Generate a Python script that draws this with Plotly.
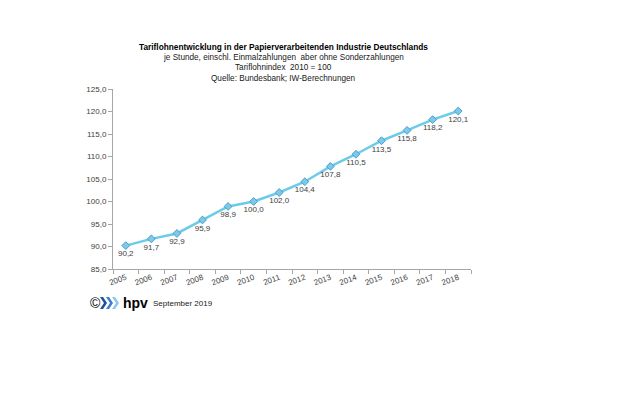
import plotly.graph_objects as go

years = ["2005", "2006", "2007", "2008", "2009", "2010", "2011", "2012", "2013", "2014", "2015", "2016", "2017", "2018"]
index_values = [90.2, 91.7, 92.9, 95.9, 98.9, 100.0, 102.0, 104.4, 107.8, 110.5, 113.5, 115.8, 118.2, 120.1]
y_ticks = [85, 90, 95, 100, 105, 110, 115, 120, 125]

title_lines = [
    "<b>Tariflohnentwicklung in der Papierverarbeitenden Industrie Deutschlands</b>",
    "je Stunde, einschl. Einmalzahlungen  aber ohne Sonderzahlungen",
    "Tariflohnindex  2010 = 100",
    "Quelle: Bundesbank; IW-Berechnungen",
]

font_family = "Liberation Sans, Arial, sans-serif"

fig = go.Figure()
fig.add_trace(go.Scatter(
    x=years, y=index_values,
    mode="lines+markers+text",
    line=dict(color="#6ccbea", width=2.5),
    marker=dict(symbol="diamond", size=6, color="#7ec8e8", line=dict(color="#4a9fcc", width=1)),
    text=[f"{v:.1f}".replace(".", ",") for v in index_values],
    textposition="bottom center",
    textfont=dict(size=8, color="#404040", family=font_family),
    cliponaxis=False,
    hoverinfo="skip",
))

fig.update_layout(
    width=629, height=393,
    margin=dict(l=105, r=166, t=81, b=132),
    paper_bgcolor="white", plot_bgcolor="white",
    separators=",.",
    showlegend=False,
    font=dict(family=font_family, size=8, color="#404040"),
)
fig.update_xaxes(
    type="category", range=[-0.5, 13.5], automargin=False,
    showline=True, linecolor="#a6a6a6", linewidth=1,
    ticks="outside", tickson="boundaries", ticklen=4, tickcolor="#a6a6a6",
    tickangle=-20, tickfont=dict(size=8, color="#404040"),
    showgrid=False, zeroline=False,
)
fig.update_yaxes(
    range=[85, 125], tickvals=y_ticks, tickformat=".1f", automargin=False,
    showline=True, linecolor="#a6a6a6", linewidth=1,
    ticks="outside", ticklen=4, tickcolor="#a6a6a6",
    tickfont=dict(size=8, color="#404040"),
    showgrid=False, zeroline=False,
)

# Title block
title_y = [47, 58, 68, 78]
title_sizes = [8.3, 8.2, 8.2, 8.2]
for i, (line, yy, sz) in enumerate(zip(title_lines, title_y, title_sizes)):
    fig.add_annotation(
        text=line, xref="paper", yref="paper",
        x=(283 - 113) / 358, y=1 + (89 - yy) / 180,
        xanchor="center", yanchor="middle", showarrow=False,
        font=dict(size=sz, color="#000000" if i == 0 else "#202020", family=font_family),
    )

# Footer logo and date
def px_x(px):
    return (px - 113) / 358

def px_y(py):
    return (269 - py) / 180

fig.add_annotation(text="©", xref="paper", yref="paper", x=px_x(95), y=px_y(303),
                   xanchor="center", yanchor="middle", showarrow=False,
                   font=dict(size=14, color="#000000", family=font_family))
chev_colors = ["#1f4e9c", "#3b7fd0", "#8cc8ee"]
for k, c in enumerate(chev_colors):
    x0 = 100 + k * 6
    fig.add_shape(type="path", xref="paper", yref="paper",
                  path=(f"M {px_x(x0)} {px_y(297)} L {px_x(x0+3)} {px_y(297)} L {px_x(x0+7)} {px_y(303)} "
                        f"L {px_x(x0+3)} {px_y(309)} L {px_x(x0)} {px_y(309)} L {px_x(x0+4)} {px_y(303)} Z"),
                  fillcolor=c, line=dict(width=0))
fig.add_annotation(text="<b>hpv</b>", xref="paper", yref="paper", x=px_x(121), y=px_y(303),
                   xanchor="left", yanchor="middle", showarrow=False,
                   font=dict(size=14, color="#000000", family=font_family))
fig.add_annotation(text="September 2019", xref="paper", yref="paper", x=px_x(151), y=px_y(303),
                   xanchor="left", yanchor="middle", showarrow=False,
                   font=dict(size=8, color="#202020", family=font_family))

fig.write_html("out.html")
